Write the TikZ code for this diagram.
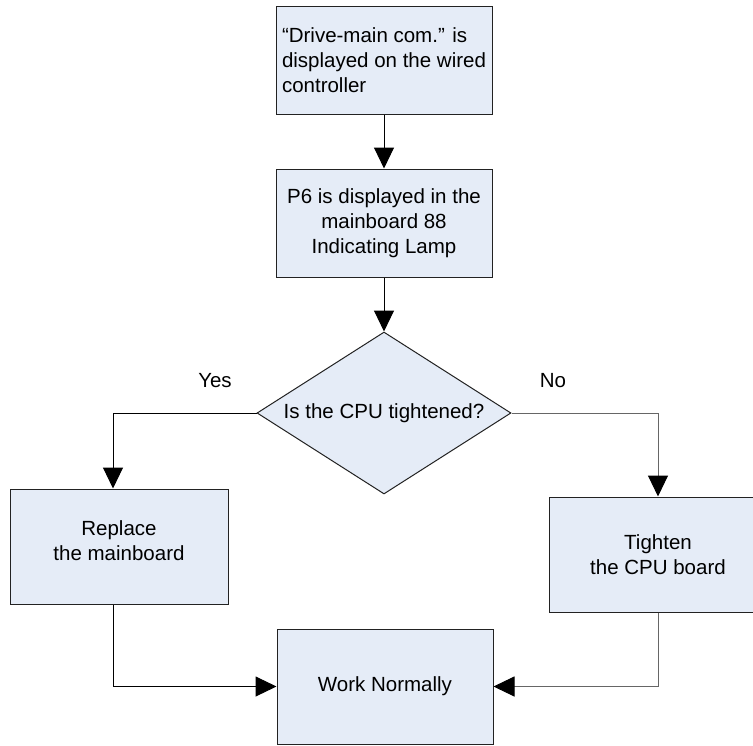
\documentclass[tikz,border=0pt]{standalone}
\usepackage{fontspec}
\setmainfont{Liberation Sans}
\usetikzlibrary{shapes.geometric,arrows.meta,calc}
\definecolor{boxfill}{HTML}{E5ECF7}
\definecolor{edge}{HTML}{222222}
\definecolor{greyline}{HTML}{666666}
\tikzset{
  stepbox/.style={draw=edge, line width=1pt, fill=boxfill, rectangle, inner sep=0pt,
    minimum width=216pt, minimum height=108pt, align=center,
    font=\fontsize{20.5}{25}\selectfont},
  decbox/.style={draw=edge, line width=1pt, fill=boxfill, diamond, inner sep=0pt, aspect=1.568,
    minimum width=254pt, minimum height=162pt, font=\fontsize{20.5}{25}\selectfont},
  arr/.style={draw=black, line width=1pt, -{Triangle[length=21pt,width=20pt,color=black,fill=black]}},
  lbl/.style={font=\fontsize{20.5}{25}\selectfont, inner sep=0pt}
}
\begin{document}
\begin{tikzpicture}[x=1pt,y=-1pt]
\useasboundingbox (0,0) rectangle (753,745);
\begin{scope}
\clip (0,0) rectangle (753,745);
\node[stepbox, align=left] (b1) at (384,60) {“Drive-main com.” is\\displayed on the wired\\controller};
\node[stepbox] (b2) at (384,223) {P6 is displayed in the\\mainboard 88\\Indicating Lamp};
\node[decbox] (d) at (384,413) {Is the CPU tightened?};
\node[stepbox, minimum width=218pt, minimum height=115pt, text depth=12pt] (L) at (119,546.5) {Replace\\the mainboard};
\node[stepbox, minimum width=218pt, minimum height=115pt] (R) at (658,554.5) {Tighten\\the CPU board};
\node[stepbox, minimum width=216pt, minimum height=115pt] (W) at (385,686.5) {Work Normally};
\coordinate (lx) at (113,0);
\draw[arr] (b1) -- (b2);
\draw[arr] (b2) -- (d);
\draw[arr] (d.west) -| (L.north -| lx);
\draw[arr, draw=greyline] (d.east) -| (R.north);
\draw[arr] (L.south -| lx) |- (W.west);
\draw[arr, draw=greyline] (R.south) |- (W.east);
\node[lbl] (yes) at (215,381) {Yes};
\node[lbl] (no) at (553,381) {No};
\end{scope}
\end{tikzpicture}
\end{document}
